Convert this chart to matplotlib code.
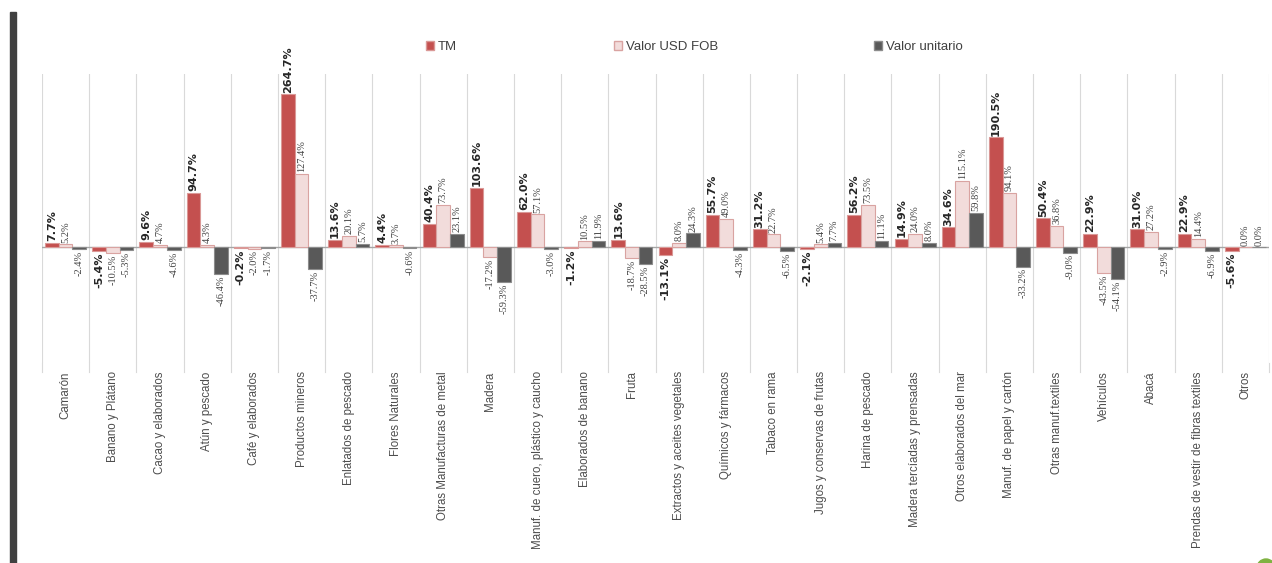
import matplotlib
matplotlib.use('Agg')
import matplotlib.pyplot as plt
import numpy as np
from matplotlib.patches import Patch, Rectangle, Circle

categories = ['Camarón', 'Banano y Plátano', 'Cacao y elaborados', 'Atún y pescado',
              'Café y elaborados', 'Productos mineros', 'Enlatados de pescado',
              'Flores Naturales', 'Otras Manufacturas de metal', 'Madera',
              'Manuf. de cuero, plástico y caucho', 'Elaborados de banano', 'Fruta',
              'Extractos y aceites vegetales', 'Químicos y fármacos', 'Tabaco en rama',
              'Jugos y conservas de frutas', 'Harina de pescado',
              'Madera tercíadas y prensadas', 'Otros elaborados del mar',
              'Manuf. de papel y cartón', 'Otras manuf.textiles', 'Vehículos', 'Abacá',
              'Prendas de vestir de fibras textiles', 'Otros']
tm = [7.7, -5.4, 9.6, 94.7, -0.2, 264.7, 13.6, 4.4, 40.4, 103.6, 62.0, -1.2, 13.6,
      -13.1, 55.7, 31.2, -2.1, 56.2, 14.9, 34.6, 190.5, 50.4, 22.9, 31.0, 22.9, -5.6]
usd_fob = [5.2, -10.5, 4.7, 4.3, -2.0, 127.4, 20.1, 3.7, 73.7, -17.2, 57.1, 10.5, -18.7,
           8.0, 49.0, 22.7, 5.4, 73.5, 24.0, 115.1, 94.1, 36.8, -43.5, 27.2, 14.4, 0.0]
unitario = [-2.4, -5.3, -4.6, -46.4, -1.7, -37.7, 5.7, -0.6, 23.1, -59.3, -3.0, 11.9, -28.5,
            24.3, -4.3, -6.5, 7.7, 11.1, 8.0, 59.8, -33.2, -9.0, -54.1, -2.9, -6.9, 0.0]
series_names = ['TM', 'Valor USD FOB', 'Valor unitario']

colors = ['#C4504F', '#F2DCDB', '#595959']
edges = ['#DA9896', '#D9A3A1', '#8C8C8C']

fig = plt.figure(figsize=(12.72, 5.63), dpi=100)
ax = fig.add_axes([42 / 1272, 1 - 363 / 563, 1227 / 1272, 289 / 563])

x = np.arange(len(categories))
w = 0.29
for i, vals in enumerate([tm, usd_fob, unitario]):
    pos = x + (i - 1) * w
    ax.bar(pos, vals, width=w, color=colors[i], edgecolor=edges[i], linewidth=0.8, zorder=3)
    for px, v in zip(pos, vals):
        ax.text(px, v + (3 if v >= 0 else -3), f'{v:.1f}%',
                rotation=90, ha='center', va='bottom' if v >= 0 else 'top',
                fontsize=8 if i == 0 else 7.5, color='#262626' if i == 0 else '#404040',
                fontweight='bold' if i == 0 else 'normal',
                fontfamily='DejaVu Sans' if i == 0 else 'Liberation Serif', zorder=4)

ax.set_xlim(-0.5, len(categories) - 0.5)
ax.set_ylim(-200, 300)
for b in np.arange(len(categories) + 1) - 0.5:
    ax.axvline(b, color='#D9D9D9', lw=0.8, zorder=1)
ax.axhline(0, color='#A6A6A6', lw=1.0, zorder=2)
for s in ax.spines.values():
    s.set_visible(False)
ax.set_yticks([])
ax.set_xticks(x)
ax.set_xticklabels(categories, rotation=90, fontsize=8.3, color='#4D4D4D', va='top',
                   fontfamily='Liberation Sans')
ax.tick_params(axis='x', length=0, pad=6)

# gridline stubs under the plot area
for b in np.arange(len(categories) + 1) - 0.5:
    ax.plot([b, b], [-200, -215], color='#D9D9D9', lw=0.8, clip_on=False)

# legend entries spread across the top
handles = [Patch(facecolor=colors[i], edgecolor=edges[i]) for i in range(3)]
for h, name, xpos in zip(handles, series_names, [414, 602, 862]):
    fig.legend([h], [name], loc='center left', bbox_to_anchor=(xpos / 1272, 1 - 47 / 563),
               frameon=False, handlelength=0.6, handleheight=0.6,
               handletextpad=0.3, labelcolor='#404040',
               prop={'family': 'Liberation Sans', 'size': 9.5})

# slide decorations
fig.patches.append(Rectangle((10 / 1272, 0), 6 / 1272, 1 - 12 / 563,
                             transform=fig.transFigure, color='#404040', zorder=5))
fig.patches.append(Circle((12.66, -0.05), 0.09, transform=fig.dpi_scale_trans,
                          color='#7FB241', zorder=5))

fig.savefig('out.png', dpi=100)
